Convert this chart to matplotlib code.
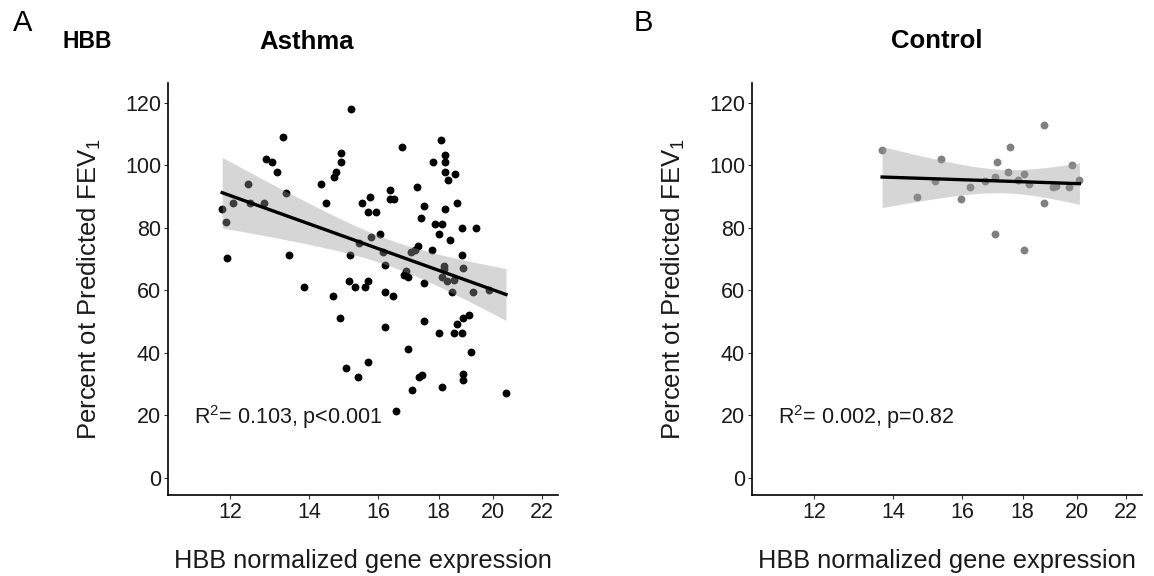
import numpy as np
import matplotlib
matplotlib.use('Agg')
import matplotlib.pyplot as plt
from matplotlib.ticker import FixedLocator, NullLocator

plt.rcParams['font.family'] = ['Liberation Sans', 'DejaVu Sans']
plt.rcParams['mathtext.default'] = 'regular'

# Asthma: HBB expression vs percent predicted FEV1
asthma_x = [11.82, 11.92, 11.94, 12.08, 12.43, 12.47, 12.81, 12.87, 13.02, 13.16,
            13.30, 13.37, 13.45, 13.87, 14.31, 14.45, 14.68, 14.74, 14.88, 14.88,
            14.66, 15.11, 15.16, 15.18, 15.29, 15.43, 15.52, 15.60, 15.69, 15.70,
            15.76, 15.78, 15.93, 16.06, 16.15, 16.21, 16.21, 16.37, 16.38, 16.50,
            16.48, 16.78, 16.82, 16.91, 16.97, 17.07, 17.18, 17.29, 17.26, 17.41,
            17.51, 17.51, 17.76, 17.79, 17.87, 18.03, 18.08, 18.11, 18.11, 18.19,
            18.20, 18.22, 18.22, 18.22, 18.22, 18.29, 18.33, 18.39, 18.49, 18.53,
            18.57, 18.66, 18.82, 18.82, 18.89, 19.25, 19.34, 19.84, 14.85, 15.04,
            15.40, 15.69, 16.21, 16.58, 16.97, 17.09, 17.33, 17.44, 17.49, 18.00,
            18.12, 18.54, 18.66, 18.82, 18.89, 19.08, 19.16, 18.89, 18.89, 20.52]
asthma_y = [86.1, 82.0, 70.3, 88.1, 94.0, 88.1, 88.1, 102.0, 101.0, 98.0,
            109.0, 91.2, 71.3, 61.0, 94.0, 88.1, 96.2, 98.0, 104.1, 101.0,
            58.2, 63.1, 71.3, 118.0, 61.0, 75.1, 88.1, 61.0, 85.0, 63.1,
            89.9, 77.0, 85.0, 78.0, 72.1, 68.1, 59.3, 89.1, 92.2, 89.1,
            58.2, 106.0, 65.0, 66.2, 64.1, 72.1, 73.0, 74.1, 93.0, 83.2,
            87.1, 62.3, 73.0, 101.0, 81.1, 78.0, 108.2, 81.1, 64.2, 67.9,
            66.9, 103.3, 101.0, 98.0, 86.1, 63.1, 95.3, 76.1, 59.3, 63.4,
            97.1, 88.1, 80.1, 71.3, 67.1, 59.3, 80.1, 60.2, 51.1, 35.2,
            32.1, 37.0, 48.1, 21.2, 41.1, 28.1, 32.1, 33.0, 50.2, 46.3,
            29.0, 46.3, 49.1, 46.3, 51.1, 52.2, 40.1, 33.1, 31.1, 27.1]

# Control
control_x = [13.70, 14.66, 15.18, 15.37, 15.96, 16.25, 16.73, 17.06, 17.06, 17.13,
             17.49, 17.55, 17.85, 18.06, 18.06, 18.24, 18.78, 18.78, 19.09, 19.19,
             19.68, 19.83, 20.10]
control_y = [105.0, 90.0, 95.1, 102.0, 89.1, 93.0, 95.1, 96.2, 78.0, 101.0,
             98.0, 106.0, 95.3, 97.1, 73.0, 93.9, 113.1, 88.1, 93.0, 93.4,
             93.0, 100.2, 95.3]

x_ticks = [12, 14, 16, 18, 20, 22]
y_ticks = [0, 20, 40, 60, 80, 100, 120]

W, H = 1154, 576
fig = plt.figure(figsize=(W / 100, H / 100), dpi=100)


def px(x, y):
    return x / W, 1 - y / H


def lm_band(x, y, t_crit):
    # linear fit in log-x space with 95% confidence band (like geom_smooth lm)
    u = np.log10(np.asarray(x))
    v = np.asarray(y)
    n = len(u)
    b, a = np.polyfit(u, v, 1)
    resid = v - (a + b * u)
    s = np.sqrt(np.sum(resid ** 2) / (n - 2))
    sxx = np.sum((u - u.mean()) ** 2)
    grid = np.linspace(u.min(), u.max(), 200)
    fit = a + b * grid
    se = s * np.sqrt(1 / n + (grid - u.mean()) ** 2 / sxx)
    return 10 ** grid, fit, fit - t_crit * se, fit + t_crit * se


def panel(left, x, y, color, t_crit, stat_text):
    ax = fig.add_axes([left / W, 1 - 495 / H, 390 / W, 412 / H])
    ax.scatter(x, y, s=32, color=color, linewidths=0, zorder=2)
    gx, fit, lo, hi = lm_band(x, y, t_crit)
    ax.fill_between(gx, lo, hi, color='#999999', alpha=0.4, linewidth=0, zorder=3)
    ax.plot(gx, fit, color='black', linewidth=2.4, zorder=4)

    ax.set_xscale('log')
    ax.set_xlim(10.64, 22.7)
    ax.set_ylim(-5.6, 126.4)
    ax.xaxis.set_major_locator(FixedLocator(x_ticks))
    ax.xaxis.set_minor_locator(NullLocator())
    ax.set_xticklabels([str(t) for t in x_ticks])
    ax.set_yticks(y_ticks)

    for side in ['top', 'right']:
        ax.spines[side].set_visible(False)
    for side in ['left', 'bottom']:
        ax.spines[side].set_linewidth(1.2)
    ax.tick_params(axis='both', length=3, width=0.8, color='#333333',
                   labelsize=15.5, labelcolor='#1a1a1a', pad=2)

    ax.set_xlabel('HBB normalized gene expression', fontsize=18.3, labelpad=19,
                  color='#1a1a1a')
    ax.set_ylabel('Percent ot Predicted FEV$_1$', fontsize=18.5, labelpad=16,
                  color='#1a1a1a')
    ax.text(11.2, 19.5, stat_text, fontsize=15.5, va='center', ha='left',
            color='#1a1a1a')
    return ax


panel(168, asthma_x, asthma_y, 'black', 1.984, 'R$^2$= 0.103, p<0.001')
panel(752, control_x, control_y, '#808080', 2.080, 'R$^2$= 0.002, p=0.82')

fig.text(*px(23, 23), 'A', fontsize=21, ha='center', va='center')
fig.text(*px(643, 23), 'B', fontsize=21, ha='center', va='center')
fig.text(*px(62, 42), 'HBB', fontsize=16.5, fontweight='bold', ha='left', va='center')
fig.text(*px(307, 42), 'Asthma', fontsize=18.5, fontweight='bold', ha='center', va='center')
fig.text(*px(937, 41), 'Control', fontsize=18.5, fontweight='bold', ha='center', va='center')

fig.savefig('out.png', dpi=100)
